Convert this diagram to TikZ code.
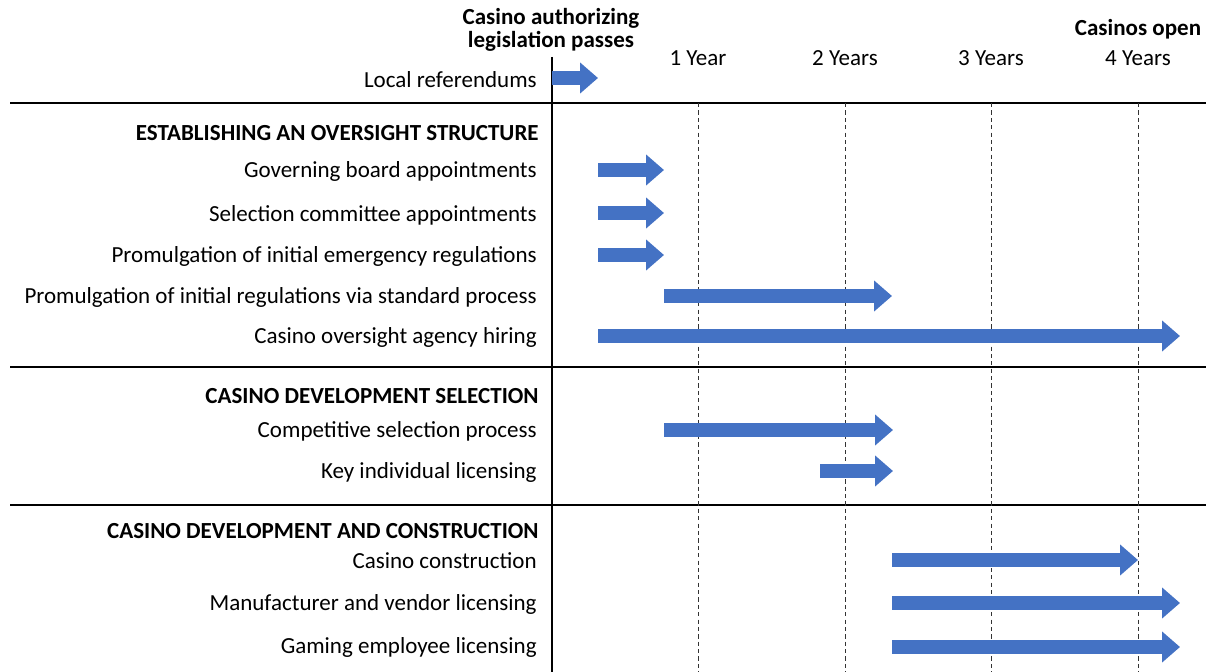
\documentclass[tikz,border=0pt]{standalone}
\usepackage{fontspec}
\setmainfont{Carlito}
\usetikzlibrary{arrows.meta}
\definecolor{barblue}{HTML}{4472C4}

\begin{document}
\begin{tikzpicture}[x=0.02cm,y=-0.02cm,font=\fontsize{13.1}{14}\selectfont]
\useasboundingbox (0,0) rectangle (1206,672);
% grid
\draw[line width=1pt] (552,57) -- (552,672);
\draw[line width=1pt] (10,103) -- (1206,103);
\draw[line width=1pt] (10,367) -- (1206,367);
\draw[line width=1pt] (10,505) -- (1206,505);
\foreach \x in {698,845,991,1138}
    \draw[line width=0.5pt,dash pattern=on 2.4pt off 1.8pt,black!80] (\x,103) -- (\x,672);
\begin{scope}[every node/.style={inner sep=0pt}]
    \node[font=\fontsize{13.1}{13.4}\selectfont\bfseries,align=center] (pass) at (551,30) {Casino authorizing\\legislation passes};
    \node[font=\fontsize{13.1}{14}\selectfont\bfseries] (open) at (1138,29) {Casinos open};
    \node (y1) at (698,58) {1 Year};
    \node (y2) at (845,58) {2 Years};
    \node (y3) at (991,58) {3 Years};
    \node (y4) at (1138,58) {4 Years};
\end{scope}
\begin{scope}[every node/.style={anchor=east,inner sep=0pt}]
    \node (ref) at (537,79.5) {Local referendums};
    \node[font=\fontsize{13.1}{14}\selectfont\bfseries] (h1) at (539,133.5) {ESTABLISHING AN OVERSIGHT STRUCTURE};
    \node (gov) at (537,171) {Governing board appointments};
    \node (sel) at (537,215.5) {Selection committee appointments};
    \node (emer) at (537,256.5) {Promulgation of initial emergency regulations};
    \node (std) at (537,297.5) {Promulgation of initial regulations via standard process};
    \node (hire) at (537,337.5) {Casino oversight agency hiring};
    \node[font=\fontsize{13.1}{14}\selectfont\bfseries] (h2) at (539,396.5) {CASINO DEVELOPMENT SELECTION};
    \node (comp) at (537,431) {Competitive selection process};
    \node (key) at (537,472) {Key individual licensing};
    \node[font=\fontsize{13.1}{14}\selectfont\bfseries] (h3) at (539,531.5) {CASINO DEVELOPMENT AND CONSTRUCTION};
    \node (cons) at (537,560.5) {Casino construction};
    \node (manu) at (537,604) {Manufacturer and vendor licensing};
    \node (emp) at (537,647) {Gaming employee licensing};
\end{scope}
% bar ends
\coordinate (ref-s) at (552,78);   \coordinate (ref-e) at (598,78);
\coordinate (gov-s) at (598,170);  \coordinate (gov-e) at (664,170);
\coordinate (sel-s) at (598,213);  \coordinate (sel-e) at (664,213);
\coordinate (emer-s) at (598,255); \coordinate (emer-e) at (664,255);
\coordinate (std-s) at (664,296);  \coordinate (std-e) at (892,296);
\coordinate (hire-s) at (598,336); \coordinate (hire-e) at (1180,336);
\coordinate (comp-s) at (664,430); \coordinate (comp-e) at (893,430);
\coordinate (key-s) at (820,471);  \coordinate (key-e) at (893,471);
\coordinate (cons-s) at (892,560); \coordinate (cons-e) at (1138,560);
\coordinate (manu-s) at (892,603); \coordinate (manu-e) at (1180,603);
\coordinate (emp-s) at (892,647);  \coordinate (emp-e) at (1180,647);
\begin{scope}[every edge/.style={draw=barblue,line width=0.28cm,
              -{Triangle[width=0.6cm,length=0.36cm]}}]
    \path (ref-s) edge (ref-e);
    \path (gov-s) edge (gov-e);
    \path (sel-s) edge (sel-e);
    \path (emer-s) edge (emer-e);
    \path (std-s) edge (std-e);
    \path (hire-s) edge (hire-e);
    \path (comp-s) edge (comp-e);
    \path (key-s) edge (key-e);
    \path (cons-s) edge (cons-e);
    \path (manu-s) edge (manu-e);
    \path (emp-s) edge (emp-e);
\end{scope}
\end{tikzpicture}
\end{document}
